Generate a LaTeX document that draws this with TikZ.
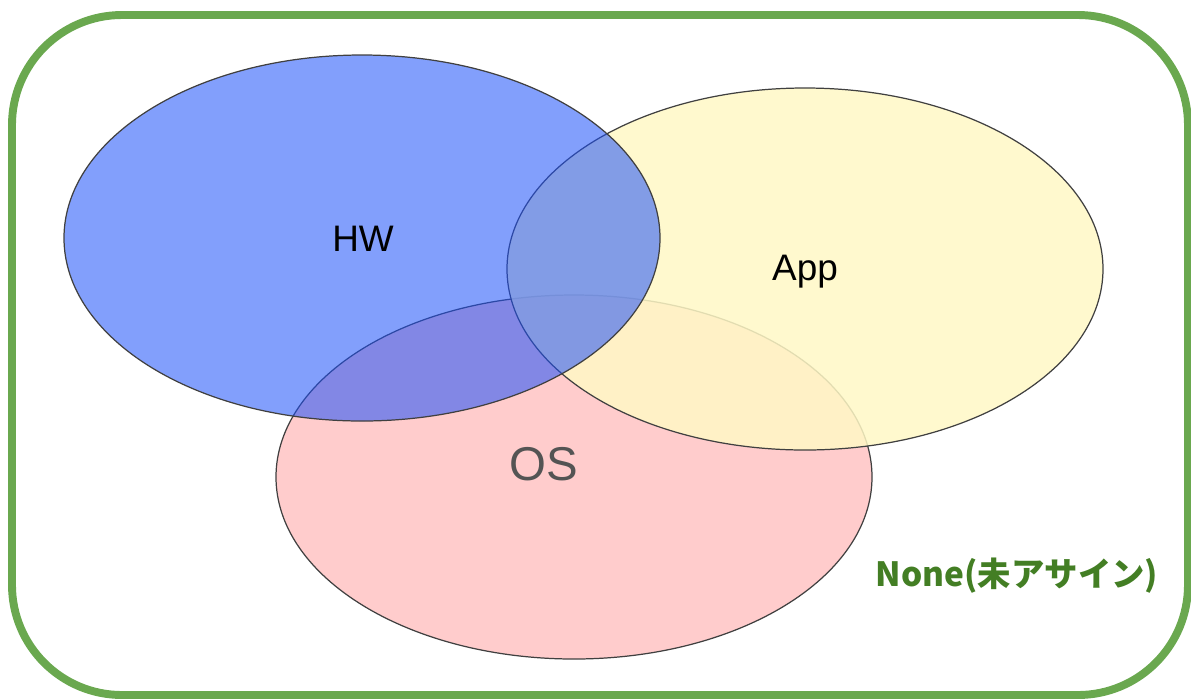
\documentclass[tikz,border=0pt]{standalone}
\usepackage{fontspec}
\setmainfont{Liberation Sans}
\newfontfamily\jpfont{Noto Sans CJK JP}
\usetikzlibrary{positioning}
\definecolor{frame}{HTML}{6AA84F}
\definecolor{nonetext}{HTML}{437E24}
\definecolor{hwblue}{HTML}{1C50FA}
\definecolor{appyellow}{HTML}{FFF8C5}
\definecolor{ospink}{HTML}{FFCCCC}
\tikzset{
  setline/.style={draw=black!75, line width=0.7pt},
  hwset/.style={setline, fill=hwblue, fill opacity=0.55},
  appset/.style={setline, fill=appyellow, fill opacity=0.85},
  osset/.style={setline, fill=ospink},
  setlabel/.style={font=\fontsize{21}{24}\selectfont}
}
\begin{document}
\begin{tikzpicture}[x=0.02cm, y=-0.02cm]
  \useasboundingbox (0,0) rectangle (1191,698);
  % outer box: nothing assigned
  \draw[frame, line width=4.5pt, rounded corners=2.2cm] (12,15) rectangle (1188,695);
  % the three sets
  \draw[osset] (574,477) ellipse [x radius=298, y radius=182];
  \draw[appset] (805,269) ellipse [x radius=298, y radius=181];
  \draw[hwset] (362,238) ellipse [x radius=298, y radius=183];
  \node[setlabel] (hw) at (363,239) {HW};
  \node[setlabel] (app) at (805,272) {App};
  \node[text=black!67, font=\fontsize{27}{30}\selectfont] (os) at (544,464) {OS};
  \node[text=nonetext, font=\jpfont\bfseries\fontsize{19}{22}\selectfont] (none) at (1017,576) {None(未アサイン)};
\end{tikzpicture}
\end{document}
